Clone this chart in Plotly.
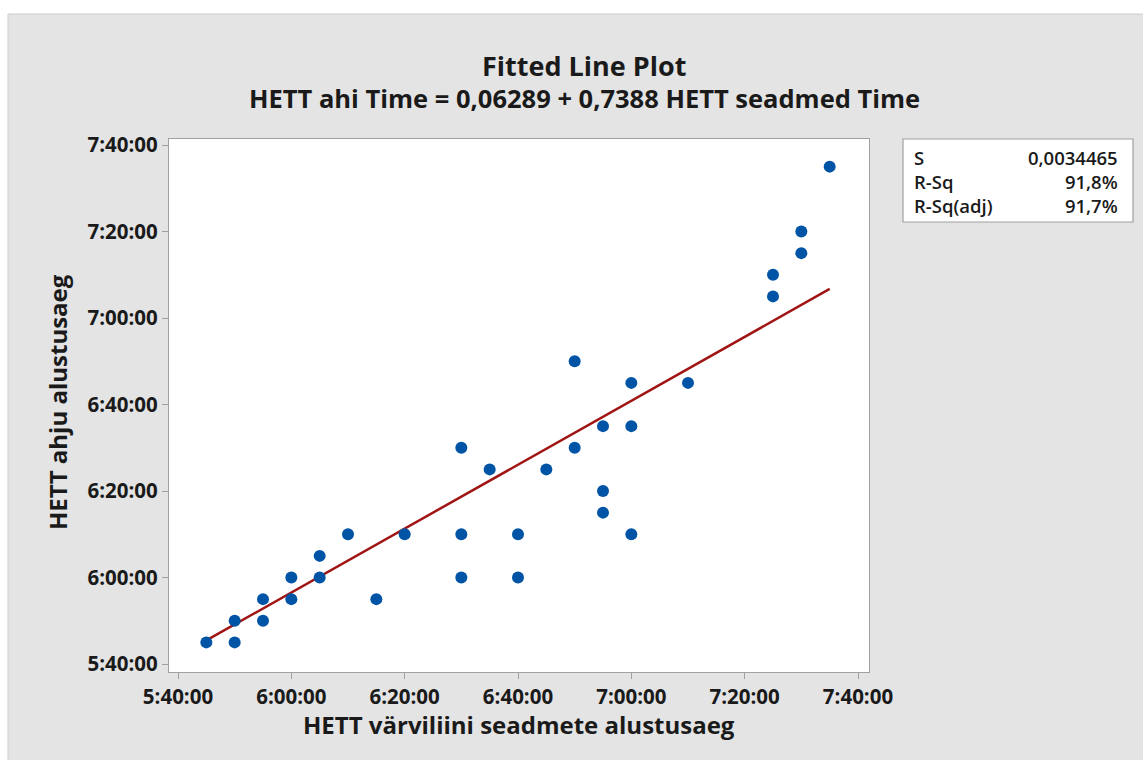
import plotly.graph_objects as go

# ---- data (times as H:MM) ----
x_times = ["5:45", "5:50", "5:50", "5:55", "5:55", "6:00", "6:00", "6:05", "6:05", "6:10",
           "6:15", "6:20", "6:30", "6:30", "6:30", "6:35", "6:40", "6:40", "6:45", "6:50",
           "6:50", "6:55", "6:55", "6:55", "7:00", "7:00", "7:00", "7:10", "7:25", "7:25",
           "7:30", "7:30", "7:35"]
y_times = ["5:45", "5:50", "5:45", "5:55", "5:50", "6:00", "5:55", "6:05", "6:00", "6:10",
           "5:55", "6:10", "6:30", "6:10", "6:00", "6:25", "6:10", "6:00", "6:25", "6:50",
           "6:30", "6:35", "6:20", "6:15", "6:45", "6:35", "6:10", "6:45", "7:10", "7:05",
           "7:20", "7:15", "7:35"]
intercept_days = 0.06289
slope = 0.7388
tick_vals_str = ["5:40", "6:00", "6:20", "6:40", "7:00", "7:20", "7:40"]
tick_text = ["5:40:00", "6:00:00", "6:20:00", "6:40:00", "7:00:00", "7:20:00", "7:40:00"]
stats_labels = ["S", "R-Sq", "R-Sq(adj)"]
stats_values = ["0,0034465", "91,8%", "91,7%"]
title = "Fitted Line Plot"
subtitle = "HETT ahi Time = 0,06289 + 0,7388 HETT seadmed Time"
x_title = "HETT värviliini seadmete alustusaeg"
y_title = "HETT ahju alustusaeg"


def to_min(t):
    h, m = t.split(":")
    return int(h) * 60 + int(m)


xs = [to_min(t) for t in x_times]
ys = [to_min(t) for t in y_times]
tick_vals = [to_min(t) for t in tick_vals_str]

x_min, x_max = min(xs), max(xs)
line_x = [x_min + i * (x_max - x_min) / 50 for i in range(51)]
line_y = [intercept_days * 1440 + slope * v for v in line_x]

W, H = 1143, 760
L, R, T, B = 169, 869, 139, 672


def px(p):
    return (p - L) / (R - L)


def py(p):
    return (B - p) / (B - T)


FONT = "Open Sans"
TXT = "#1a1a1a"

fig = go.Figure()
fig.add_trace(go.Scatter(x=line_x, y=line_y, mode="lines",
                         line=dict(color="#a01414", width=2.5), hoverinfo="skip"))
fig.add_trace(go.Scatter(x=xs, y=ys, mode="markers",
                         marker=dict(color="#0054a6", size=12)))

shapes = [
    dict(type="rect", xref="paper", yref="paper", x0=px(8), x1=px(1150), y0=py(14), y1=py(770),
         fillcolor="#e4e4e4", line=dict(color="#cdcdcd", width=1), layer="below"),
    dict(type="rect", xref="paper", yref="paper", x0=0, x1=1, y0=0, y1=1,
         fillcolor="white", line=dict(width=0), layer="below"),
    dict(type="rect", xref="paper", yref="paper", x0=px(903), x1=px(1133), y0=py(139), y1=py(222),
         fillcolor="white", line=dict(color="#a0a0a0", width=1.2), layer="below"),
]

annotations = [
    dict(text=title, x=px(584), y=py(65), xref="paper", yref="paper",
         showarrow=False, font=dict(family=FONT, size=27, color=TXT, weight="bold"),
         xanchor="center", yanchor="middle"),
    dict(text=subtitle, x=px(584), y=py(98), xref="paper", yref="paper",
         showarrow=False, font=dict(family=FONT, size=25.5, color=TXT, weight="bold"),
         xanchor="center", yanchor="middle"),
    dict(text=x_title, x=px(519), y=py(724), xref="paper", yref="paper",
         showarrow=False, font=dict(family=FONT, size=24, color=TXT, weight="bold"),
         xanchor="center", yanchor="middle"),
    dict(text=y_title, x=px(57), y=py(402), xref="paper", yref="paper", textangle=-90,
         showarrow=False, font=dict(family=FONT, size=24, color=TXT, weight="bold"),
         xanchor="center", yanchor="middle"),
    dict(text="<br>".join(stats_labels), x=px(912), y=py(181), xref="paper", yref="paper",
         showarrow=False, align="left",
         font=dict(family=FONT, size=18.5, color=TXT, weight=600),
         xanchor="left", yanchor="middle"),
    dict(text="<br>".join(stats_values), x=px(1120), y=py(181), xref="paper", yref="paper",
         showarrow=False, align="right",
         font=dict(family=FONT, size=18.5, color=TXT, weight=600),
         xanchor="right", yanchor="middle"),
]

axis_common = dict(
    showgrid=False, zeroline=False, showline=True, linecolor="#a0a0a0", linewidth=1.3, mirror=True,
    ticks="outside", ticklen=6, tickcolor="#a0a0a0", tickwidth=1.3,
    tickfont=dict(family=FONT, size=20.5, color=TXT, weight="bold"),
    tickvals=tick_vals, ticktext=tick_text,
)

fig.update_layout(
    width=W, height=H,
    margin=dict(l=L, r=W - R, t=T, b=H - B, pad=0),
    paper_bgcolor="white", plot_bgcolor="white",
    showlegend=False,
    xaxis=dict(range=[340 - 9 / 5.667, 460 + 11 / 5.667], **axis_common),
    yaxis=dict(range=[340 - 8 / 4.325, 460 + 6 / 4.325], **axis_common),
    shapes=shapes,
    annotations=annotations,
)

fig.write_html("out.html")
